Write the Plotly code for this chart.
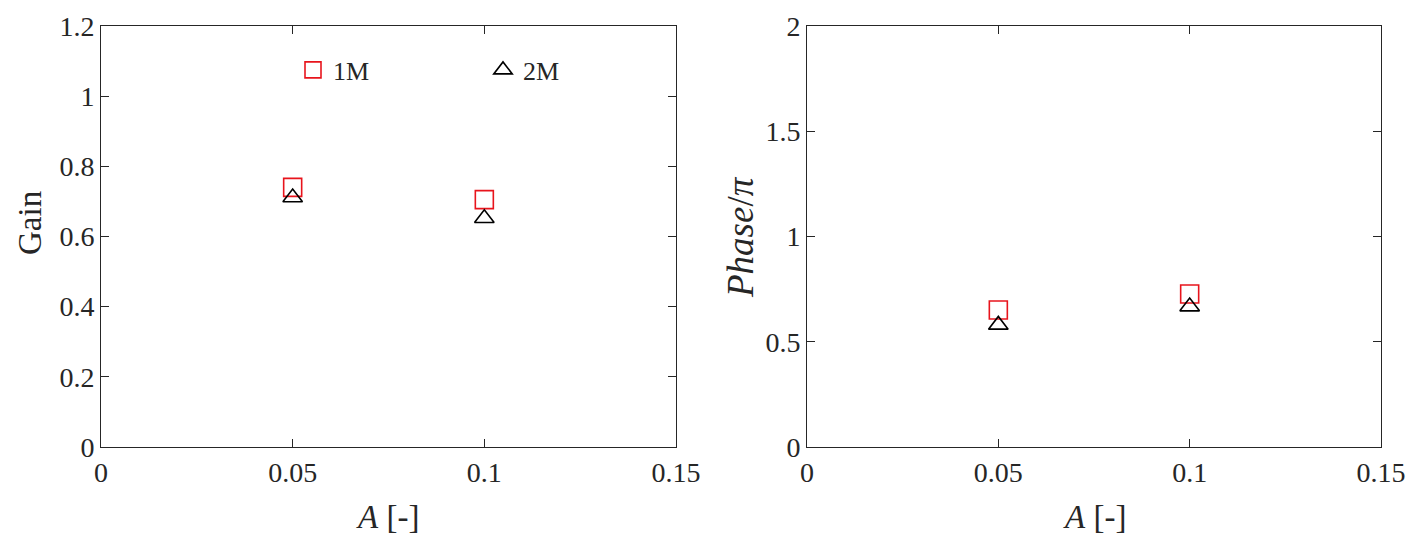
import plotly.graph_objects as go

# ---- data ----
amplitude = [0.05, 0.1]
gain_1m = [0.740, 0.705]
gain_2m = [0.711, 0.652]
phase_1m = [0.651, 0.727]
phase_2m = [0.580, 0.667]

x_ticks = [0, 0.05, 0.1, 0.15]
x_ticklabels = ["0", "0.05", "0.1", "0.15"]
gain_ticks = [0, 0.2, 0.4, 0.6, 0.8, 1.0, 1.2]
gain_ticklabels = ["0", "0.2", "0.4", "0.6", "0.8", "1", "1.2"]
phase_ticks = [0, 0.5, 1.0, 1.5, 2.0]
phase_ticklabels = ["0", "0.5", "1", "1.5", "2"]

RED = "#e8141c"
INK = "#262626"
FONT = "Liberation Serif"

fig = go.Figure()

fig.add_trace(go.Scatter(x=amplitude, y=gain_1m, mode="markers", name="1M",
                         marker=dict(symbol="square-open", size=18, color=RED,
                                     line=dict(width=1.6, color=RED)),
                         xaxis="x", yaxis="y"))
fig.add_trace(go.Scatter(x=amplitude, y=gain_2m, mode="markers", name="2M",
                         marker=dict(symbol="triangle-up-open", size=17, color="black",
                                     line=dict(width=1.6, color="black")),
                         xaxis="x", yaxis="y"))
fig.add_trace(go.Scatter(x=amplitude, y=phase_1m, mode="markers", name="1M",
                         showlegend=False,
                         marker=dict(symbol="square-open", size=18, color=RED,
                                     line=dict(width=1.6, color=RED)),
                         xaxis="x2", yaxis="y2"))
fig.add_trace(go.Scatter(x=amplitude, y=phase_2m, mode="markers", name="2M",
                         showlegend=False,
                         marker=dict(symbol="triangle-up-open", size=17, color="black",
                                     line=dict(width=1.6, color="black")),
                         xaxis="x2", yaxis="y2"))

W, H = 1416, 546
T, B = 26, 99
PH = H - T - B  # plot-area height in px


def py(pix):
    """convert a page pixel row to paper y"""
    return (H - B - pix) / PH


common = dict(showgrid=False, zeroline=False, showline=True, linecolor=INK,
              linewidth=1, mirror="ticks", ticks="inside", ticklen=8,
              tickcolor=INK, tickwidth=1, automargin=False,
              tickfont=dict(family=FONT, size=28, color=INK))
title_font = dict(family=FONT, size=33, color=INK)
phase_font = dict(family=FONT, size=37, color=INK)

annotations = [
    dict(text="<i>A</i> [-]", x=388 / W, y=py(517), xref="paper", yref="paper",
         showarrow=False, xanchor="center", yanchor="middle", font=title_font),
    dict(text="<i>A</i> [-]", x=1094 / W, y=py(517), xref="paper", yref="paper",
         showarrow=False, xanchor="center", yanchor="middle", font=title_font),
    dict(text="Gain", x=30 / W, y=py(223), xref="paper", yref="paper", textangle=-90,
         showarrow=False, xanchor="center", yanchor="middle", font=title_font),
    dict(text="<i>Phase</i>/<i>π</i>", x=740 / W, y=py(237), xref="paper", yref="paper",
         textangle=-90, showarrow=False, xanchor="center", yanchor="middle", font=phase_font),
]

fig.update_layout(
    width=W, height=H,
    margin=dict(l=0, r=0, t=T, b=B, autoexpand=False),
    paper_bgcolor="white", plot_bgcolor="white",
    font=dict(family=FONT, color=INK),
    xaxis=dict(domain=[101 / W, 676 / W], range=[0, 0.15], anchor="y",
               tickvals=x_ticks, ticktext=x_ticklabels, **common),
    yaxis=dict(domain=[0, 1], range=[0, 1.2], anchor="x",
               tickvals=gain_ticks, ticktext=gain_ticklabels, **common),
    xaxis2=dict(domain=[807 / W, 1381 / W], range=[0, 0.15], anchor="y2",
                tickvals=x_ticks, ticktext=x_ticklabels, **common),
    yaxis2=dict(domain=[0, 1], range=[0, 2], anchor="x2",
                tickvals=phase_ticks, ticktext=phase_ticklabels, **common),
    annotations=annotations,
    legend=dict(orientation="h", x=293 / W, xanchor="left", y=py(70),
                yanchor="middle", bgcolor="rgba(0,0,0,0)",
                font=dict(family=FONT, size=26, color=INK),
                entrywidth=145, entrywidthmode="pixels"),
)

fig.write_html("out.html", config={"displayModeBar": False},
               post_script="document.body.style.margin='0';document.body.style.overflow='hidden';")
